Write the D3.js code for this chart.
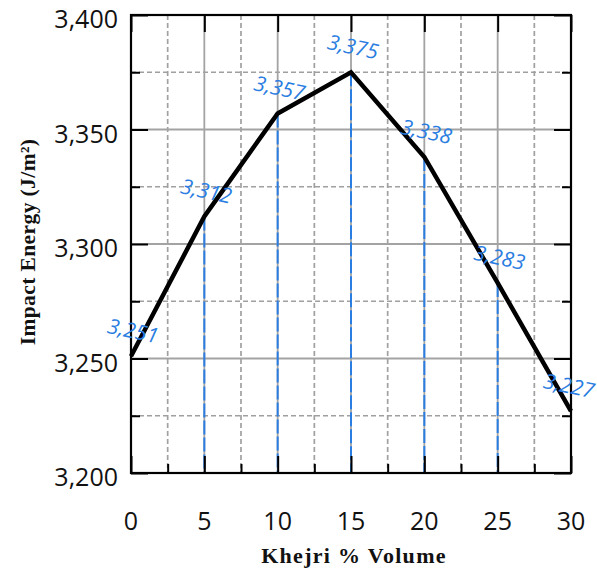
<!DOCTYPE html>
<html><head><meta charset="utf-8">
<script src="https://cdn.jsdelivr.net/npm/d3@7"></script>
<style>body{margin:0;background:#fff}svg{display:block}</style>
</head><body>
<svg id="c" width="597" height="571"></svg>
<script>
const volume = [0, 5, 10, 15, 20, 25, 30];
const impactEnergy = [3251, 3312, 3357, 3375, 3338, 3283, 3227];
const xTicks = [0, 5, 10, 15, 20, 25, 30];
const xMinor = [2.5, 7.5, 12.5, 17.5, 22.5, 27.5];
const yTicks = [3200, 3250, 3300, 3350, 3400];
const yMinor = [3225, 3275, 3325, 3375];
const xTitle = "Khejri % Volume";
const yTitle = "Impact Energy (J/m²)";

const svg = d3.select("#c");
const L = 131, R = 571, T = 15, B = 473;
const x = d3.scaleLinear().domain([0, 30]).range([L, R]);
const y = d3.scaleLinear().domain([3200, 3400]).range([B, T]);
const fmt = d3.format(",");

// grid
const g = svg.append("g");
g.selectAll(".vmin").data(xMinor).join("line")
  .attr("x1", d => x(d)).attr("x2", d => x(d)).attr("y1", T).attr("y2", B)
  .attr("stroke", "#a0a0a0").attr("stroke-width", 1.7).attr("stroke-dasharray", "5,3");
g.selectAll(".hmin").data(yMinor).join("line")
  .attr("y1", d => y(d)).attr("y2", d => y(d)).attr("x1", L).attr("x2", R)
  .attr("stroke", "#a0a0a0").attr("stroke-width", 1.7).attr("stroke-dasharray", "5,3");
g.selectAll(".vmaj").data(xTicks.slice(1, -1)).join("line")
  .attr("x1", d => x(d)).attr("x2", d => x(d)).attr("y1", T).attr("y2", B)
  .attr("stroke", "#a3a3a3").attr("stroke-width", 1.8);
g.selectAll(".hmaj").data(yTicks.slice(1, -1)).join("line")
  .attr("y1", d => y(d)).attr("y2", d => y(d)).attr("x1", L).attr("x2", R)
  .attr("stroke", "#a3a3a3").attr("stroke-width", 1.8);

// blue drop lines
svg.append("g").selectAll("line").data(volume).join("line")
  .attr("x1", d => x(d)).attr("x2", d => x(d))
  .attr("y1", (d, i) => y(impactEnergy[i])).attr("y2", B)
  .attr("stroke", "#2a7de1").attr("stroke-width", 2).attr("stroke-dasharray", "14,3");

// axes with ticks (inward)
function axisG(axis, tr) {
  const a = svg.append("g").attr("transform", tr).call(axis);
  a.select(".domain").remove();
  a.selectAll("text").remove();
  a.selectAll("line").attr("stroke", "#000").attr("stroke-width", 2);
  return a;
}
axisG(d3.axisBottom(x).tickValues(xTicks).tickSize(-17), `translate(0,${B})`);
axisG(d3.axisBottom(x).tickValues(xMinor).tickSize(-9), `translate(0,${B})`);
axisG(d3.axisTop(x).tickValues(xTicks).tickSize(-17), `translate(0,${T})`);
axisG(d3.axisLeft(y).tickValues(yTicks).tickSize(-17), `translate(${L},0)`);
axisG(d3.axisLeft(y).tickValues(yMinor).tickSize(-9), `translate(${L},0)`);
axisG(d3.axisRight(y).tickValues(yTicks).tickSize(-17), `translate(${R},0)`);
axisG(d3.axisRight(y).tickValues(yMinor).tickSize(-9), `translate(${R},0)`);

// frame
svg.append("rect").attr("x", L).attr("y", T).attr("width", R - L).attr("height", B - T)
  .attr("fill", "none").attr("stroke", "#000").attr("stroke-width", 2.2);

// tick labels
svg.append("g").selectAll("text").data(yTicks).join("text")
  .attr("x", 118).attr("y", d => y(d) + 13).attr("text-anchor", "end")
  .attr("font-family", "'Open Sans', sans-serif").attr("font-size", 25).attr("fill", "#111")
  .text(d => fmt(d));
svg.append("g").selectAll("text").data(xTicks).join("text")
  .attr("x", d => x(d)).attr("y", 530).attr("text-anchor", "middle")
  .attr("font-family", "'Open Sans', sans-serif").attr("font-size", 25).attr("fill", "#111")
  .text(d => d);

// line
svg.append("path").datum(volume.map((v, i) => [v, impactEnergy[i]]))
  .attr("d", d3.line().x(d => x(d[0])).y(d => y(d[1])))
  .attr("fill", "none").attr("stroke", "#000").attr("stroke-width", 4.5)
  .attr("stroke-linejoin", "miter");

// data labels
svg.append("g").selectAll("text").data(volume).join("text")
  .attr("transform", (d, i) => `translate(${Math.min(x(d) + 2, 569)},${y(impactEnergy[i]) - 26}) rotate(12)`)
  .attr("text-anchor", "middle").attr("dominant-baseline", "central")
  .attr("font-family", "'Open Sans', sans-serif").attr("font-style", "italic")
  .attr("font-size", 21).attr("fill", "#2a7de1")
  .text((d, i) => fmt(impactEnergy[i]));

// axis titles
svg.append("text").attr("x", (L + R) / 2 + 3).attr("y", 563).attr("text-anchor", "middle")
  .attr("font-family", "'Liberation Serif', 'Times New Roman', serif").attr("font-weight", "bold")
  .attr("font-size", 22).attr("letter-spacing", 1.3).attr("fill", "#111").text(xTitle);
svg.append("text").attr("transform", `translate(35,${(T + B) / 2 - 2}) rotate(-90)`)
  .attr("text-anchor", "middle")
  .attr("font-family", "'Liberation Serif', 'Times New Roman', serif").attr("font-weight", "bold")
  .attr("font-size", 21.5).attr("letter-spacing", 0.4).attr("fill", "#111").text(yTitle);
</script>
</body></html>
